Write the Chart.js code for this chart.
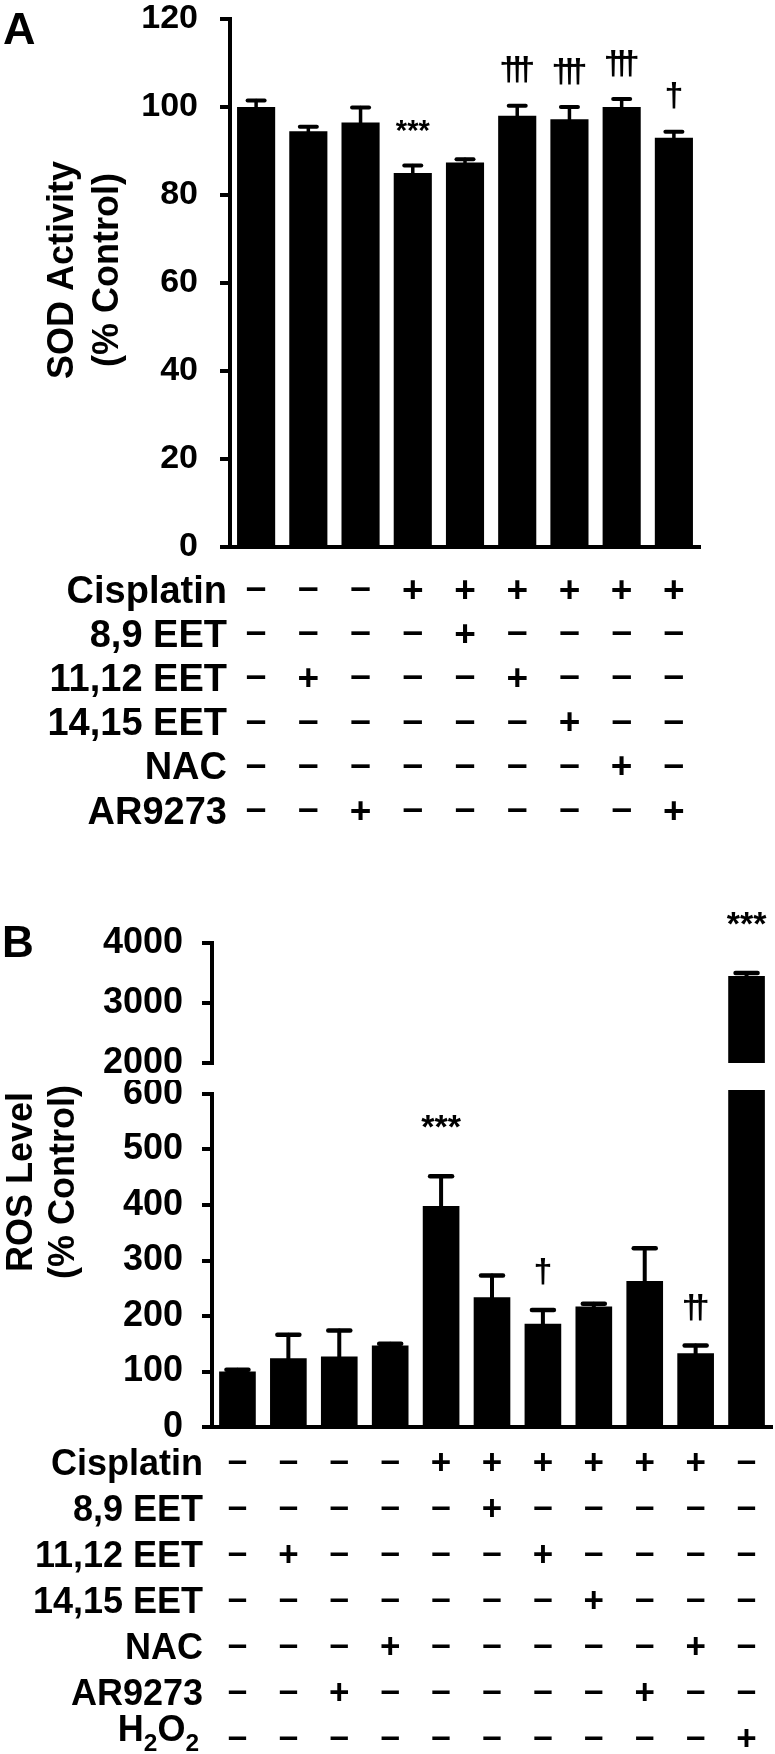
<!DOCTYPE html>
<html>
<head>
<meta charset="utf-8">
<script src="https://cdn.jsdelivr.net/npm/chart.js@4/dist/chart.umd.min.js"></script>
<style>
html,body{margin:0;padding:0;background:#fff;overflow:hidden;width:775px;height:1754px;position:relative;}
canvas{position:absolute;left:0;}
</style>
</head>
<body>
<canvas id="cA" width="775" height="840" style="top:0px"></canvas>
<canvas id="cBU" width="775" height="200" style="top:880px"></canvas>
<canvas id="cBL" width="775" height="674" style="top:1080px"></canvas>
<script>
// ---------------- Panel A data ----------------
const sodCategories = ['Control','11,12 EET','AR9273','Cisplatin','Cis + 8,9 EET','Cis + 11,12 EET','Cis + 14,15 EET','Cis + NAC','Cis + AR9273'];
const sodMean = [100, 94.5, 96.5, 85, 87.4, 98, 97.2, 100, 93];
const sodErr  = [1.5, 1, 3.4, 1.7, 0.7, 2.3, 2.8, 1.8, 1.4];
const sodSig  = ['', '', '', '***', '', '†††', '†††', '†††', '†'];
const sodAxis = [0, 120, 20];           // min, max, step
const sodTitle = ['SOD Activity', '(% Control)'];
const rowLabelsA = ['Cisplatin', '8,9 EET', '11,12 EET', '14,15 EET', 'NAC', 'AR9273'];
const cisA     = ['-','-','-','+','+','+','+','+','+'];
const eet89A   = ['-','-','-','-','+','-','-','-','-'];
const eet1112A = ['-','+','-','-','-','+','-','-','-'];
const eet1415A = ['-','-','-','-','-','-','+','-','-'];
const nacA     = ['-','-','-','-','-','-','-','+','-'];
const arA      = ['-','-','+','-','-','-','-','-','+'];

// ---------------- Panel B data ----------------
const rosCategories = ['Control','11,12 EET','AR9273','NAC','Cisplatin','Cis + 8,9 EET','Cis + 11,12 EET','Cis + 14,15 EET','Cis + AR9273','Cis + NAC','H₂O₂'];
const rosMean = [100, 124, 127, 147, 398, 234, 186, 217, 263, 133, 3450];
const rosErr  = [3, 42, 47, 3, 54, 39, 25, 5, 59, 14, 50];
const rosSig  = ['', '', '', '', '***', '', '†', '', '', '††', '***'];
const rosAxisLow  = [0, 600, 100];
const rosAxisHigh = [2000, 4000, 1000];
const rosTitle = ['ROS Level', '(% Control)'];
const rowLabelsB = ['Cisplatin', '8,9 EET', '11,12 EET', '14,15 EET', 'NAC', 'AR9273', 'H₂O₂'];
const cisB     = ['-','-','-','-','+','+','+','+','+','+','-'];
const eet89B   = ['-','-','-','-','-','+','-','-','-','-','-'];
const eet1112B = ['-','+','-','-','-','-','+','-','-','-','-'];
const eet1415B = ['-','-','-','-','-','-','-','+','-','-','-'];
const nacB     = ['-','-','-','+','-','-','-','-','-','+','-'];
const arB      = ['-','-','+','-','-','-','-','-','+','-','-'];
const h2o2B    = ['-','-','-','-','-','-','-','-','-','-','+'];

// ---------------- drawing helpers ----------------
const FONT = '"Liberation Sans", Arial, Helvetica, sans-serif';
function font(size){ return 'bold ' + size + 'px ' + FONT; }

function glyphCenter(ctx, text, x, yc){
  const m = ctx.measureText(text);
  ctx.textBaseline = 'alphabetic';
  ctx.fillText(text, x, yc + (m.actualBoundingBoxAscent - m.actualBoundingBoxDescent) / 2);
}
function capHeight(ctx){ return ctx.measureText('H').actualBoundingBoxAscent; }

// text with unicode subscript 2 rendered as smaller lowered digit, right-aligned
function richRight(ctx, text, xRight, baseline, size){
  const parts = [];
  for (const ch of text){
    if (ch === '₂') parts.push({t:'2', sub:true}); else parts.push({t:ch, sub:false});
  }
  let w = 0;
  parts.forEach(p => { ctx.font = font(p.sub ? size*0.68 : size); p.w = ctx.measureText(p.t).width; w += p.w; });
  let x = xRight - w;
  ctx.textAlign = 'left'; ctx.textBaseline = 'alphabetic';
  parts.forEach(p => { ctx.font = font(p.sub ? size*0.68 : size); ctx.fillText(p.t, x, baseline + (p.sub ? size*0.28 : 0)); x += p.w; });
}

function drawSignTable(ctx, xs, labels, rows, o){
  rows.forEach((row, r) => {
    const yc = o.y0 + r * o.pitch;
    const lab = labels[r];
    ctx.fillStyle = '#000';
    ctx.font = font(o.labelSize);
    const ch = capHeight(ctx);
    if (lab.includes('₂')){
      richRight(ctx, lab, o.labelRight - 4, yc - o.subShift + ch/2, o.labelSize);
    } else {
      ctx.textAlign = 'right'; ctx.textBaseline = 'alphabetic';
      ctx.fillText(lab, o.labelRight, yc + ch/2);
    }
    ctx.font = font(o.signSize);
    ctx.textAlign = 'center';
    row.forEach((s, i) => glyphCenter(ctx, s === '+' ? '+' : '–', xs.getPixelForValue(i), yc));
  });
}

function drawYTitle(ctx, lines, xs, yc, size){
  ctx.save();
  ctx.font = font(size);
  const ch = capHeight(ctx);
  lines.forEach((t, k) => {
    ctx.save();
    ctx.translate(xs[k], yc);
    ctx.rotate(-Math.PI/2);
    ctx.textAlign = 'center'; ctx.textBaseline = 'alphabetic';
    ctx.fillText(t, 0, ch/2);
    ctx.restore();
  });
  ctx.restore();
}

function barChart(id, o){
  return new Chart(document.getElementById(id), {
    type: 'bar',
    data: {
      labels: o.labels,
      datasets: [{ data: o.data, backgroundColor: '#000', borderWidth: 0,
                   barPercentage: o.barPct, categoryPercentage: 1, clip: o.clip }]
    },
    options: {
      responsive: false, animation: false, devicePixelRatio: 1,
      layout: { padding: o.padding },
      plugins: { legend: { display: false }, tooltip: { enabled: false } },
      scales: {
        x: {
          display: o.showX,
          ticks: { display: false },
          grid: { display: false, drawTicks: false },
          border: { display: true, color: '#000', width: 4 },
          afterFit: s => { s.height = 0; s.paddingLeft = 0; s.paddingRight = 0; }
        },
        y: {
          min: o.axis[0], max: o.axis[1],
          ticks: { stepSize: o.axis[2], color: '#000', padding: o.tickPad,
                   callback: v => String(v),
                   font: { family: FONT, size: o.tickSize, weight: 'bold' } },
          grid: { display: true, drawOnChartArea: false, drawTicks: true, tickLength: 10, lineWidth: 4, color: '#000' },
          border: { display: true, color: '#000', width: 4 },
          afterFit: s => { s.width = o.yWidth; s.paddingTop = 0; s.paddingBottom = 0; }
        }
      }
    },
    plugins: [{
      id: 'extras',
      afterDraw(chart){
        const ctx = chart.ctx, ys = chart.scales.y, xs = chart.scales.x;
        const meta = chart.getDatasetMeta(0);
        ctx.save();
        ctx.strokeStyle = '#000'; ctx.fillStyle = '#000'; ctx.lineCap = 'round';
        o.data.forEach((v, i) => {
          if (v == null || v > ys.max) return;
          const x = meta.data[i].x;
          const yTop = ys.getPixelForValue(v);
          const yE = ys.getPixelForValue(v + o.errs[i]);
          if (o.errs[i] > 0){
            ctx.lineWidth = o.stemW;
            ctx.beginPath(); ctx.moveTo(x, yTop); ctx.lineTo(x, yE); ctx.stroke();
            ctx.lineWidth = o.capW;
            ctx.beginPath(); ctx.moveTo(x - o.capHalf, yE); ctx.lineTo(x + o.capHalf, yE); ctx.stroke();
          }
          const s = o.sigs[i];
          if (s){
            ctx.textAlign = 'center';
            if (s[0] === '*'){
              ctx.font = font(o.starSize);
              glyphCenter(ctx, s, x, yE - o.gapStar);
            } else {
              ctx.font = font(o.daggerSize);
              const n = s.length;
              for (let k = 0; k < n; k++) glyphCenter(ctx, '†', x + (k - (n-1)/2) * o.daggerPitch, yE - o.gapDagger);
            }
          }
        });
        if (o.extra) o.extra(chart, ctx, xs);
        ctx.restore();
      }
    }]
  });
}

// ---------------- Panel A ----------------
barChart('cA', {
  labels: sodCategories, data: sodMean, errs: sodErr, sigs: sodSig, axis: sodAxis,
  padding: { left: 0, top: 19, right: 75, bottom: 293 }, yWidth: 230, showX: true,
  barPct: 0.73, clip: 0, tickSize: 34, tickPad: 22,
  stemW: 3.5, capW: 4, capHalf: 8.5,
  starSize: 29, gapStar: 40, daggerSize: 34, daggerPitch: 8.5, gapDagger: 36,
  extra: (chart, ctx, xs) => {
    ctx.fillStyle = '#000';
    ctx.font = font(45); ctx.textAlign = 'left'; ctx.textBaseline = 'alphabetic';
    ctx.fillText('A', 3, 44);
    drawYTitle(ctx, sodTitle, [60, 105], 270, 36);
    drawSignTable(ctx, xs, rowLabelsA, [cisA, eet89A, eet1112A, eet1415A, nacA, arA],
      { y0: 589, pitch: 44.2, labelRight: 227, labelSize: 38, signSize: 37, subShift: 0 });
  }
});

// ---------------- Panel B (upper segment of broken axis) ----------------
barChart('cBU', {
  labels: rosCategories, data: rosMean.map(v => v > rosAxisHigh[0] ? v : null), errs: rosErr, sigs: rosSig, axis: rosAxisHigh,
  padding: { left: 0, top: 63, right: 3, bottom: 17 }, yWidth: 212, showX: false,
  barPct: 0.72, clip: 0, tickSize: 36, tickPad: 19,
  stemW: 4, capW: 4.5, capHalf: 11,
  starSize: 34, gapStar: 55, daggerSize: 34, daggerPitch: 9, gapDagger: 38,
  extra: (chart, ctx) => {
    ctx.fillStyle = '#000';
    ctx.font = font(44); ctx.textAlign = 'left'; ctx.textBaseline = 'alphabetic';
    ctx.fillText('B', 2, 957 - 880);
  }
});

// ---------------- Panel B (lower segment) ----------------
barChart('cBL', {
  labels: rosCategories, data: rosMean, errs: rosErr, sigs: rosSig, axis: rosAxisLow,
  padding: { left: 0, top: 14, right: 3, bottom: 327 }, yWidth: 212, showX: true,
  barPct: 0.72, clip: 4, tickSize: 36, tickPad: 19,
  stemW: 4, capW: 4.5, capHalf: 11,
  starSize: 34, gapStar: 55, daggerSize: 34, daggerPitch: 9, gapDagger: 38,
  extra: (chart, ctx, xs) => {
    drawYTitle(ctx, rosTitle, [19, 61], 1182 - 1080, 36);
    drawSignTable(ctx, xs, rowLabelsB, [cisB, eet89B, eet1112B, eet1415B, nacB, arB, h2o2B],
      { y0: 1462 - 1080, pitch: 46, labelRight: 203, labelSize: 36, signSize: 35, subShift: 10 });
  }
});
</script>
</body>
</html>
